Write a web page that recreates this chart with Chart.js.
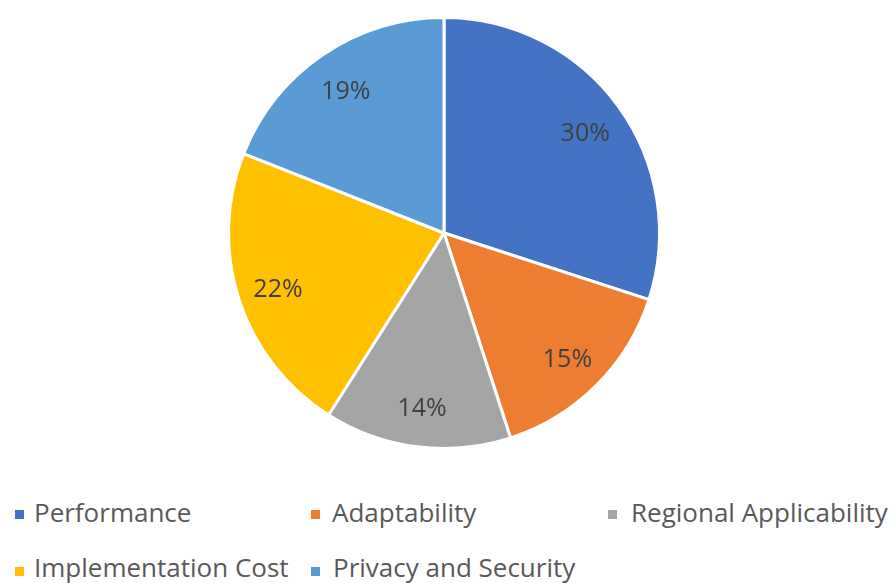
<!DOCTYPE html>
<html>
<head>
<meta charset="utf-8">
<script src="https://cdn.jsdelivr.net/npm/chart.js@4.4.1/dist/chart.umd.min.js"></script>
<style>
  html, body { margin: 0; padding: 0; background: #fff; }
  #wrap { position: relative; width: 894px; height: 583px; overflow: hidden; }
  #pie { position: absolute; left: 0; top: 0; width: 894px; height: 470px; }
  .lg-box { position: absolute; width: 9px; height: 9px; }
  .lg-text { position: absolute; font-family: 'Open Sans', 'Liberation Sans', sans-serif;
             font-size: 26px; line-height: 34px; color: #595959; white-space: nowrap; }
</style>
</head>
<body>
<div id="wrap">
  <div id="pie"><canvas id="pieChart"></canvas></div>
  <div id="legend"></div>
</div>
<script>
const categories = ['Performance', 'Adaptability', 'Regional Applicability', 'Implementation Cost', 'Privacy and Security'];
const shares = [30, 15, 14, 22, 19];
const sliceColors = ['#4472C4', '#ED7D31', '#A5A5A5', '#FFC000', '#5B9BD5'];

// legend slots in Excel-style columns: [box x, text x, row]
const legendSlots = [[15, 34, 0], [311, 332, 0], [608, 631, 0], [15, 34, 1], [311, 333, 1]];
const rowBoxTop = [510, 567];
const rowTextTop = [495, 550];

// percent text inside each slice
const sliceLabels = {
    id: 'sliceLabels',
    afterDatasetsDraw(chart) {
        const ctx = chart.ctx;
        const meta = chart.getDatasetMeta(0);
        const total = shares.reduce((a, b) => a + b, 0);
        ctx.save();
        ctx.font = "25px 'Open Sans', 'Liberation Sans', sans-serif";
        ctx.fillStyle = '#404040';
        ctx.textAlign = 'center';
        ctx.textBaseline = 'middle';
        meta.data.forEach((arc, i) => {
            const mid = (arc.startAngle + arc.endAngle) / 2;
            const r = arc.outerRadius * 0.81;
            const x = arc.x + Math.cos(mid) * r;
            const y = arc.y + Math.sin(mid) * r + 3;
            ctx.fillText(Math.round(shares[i] / total * 100) + '%', x, y);
        });
        ctx.restore();
    }
};

const chart = new Chart(document.getElementById('pieChart'), {
    type: 'pie',
    data: {
        labels: categories,
        datasets: [{
            data: shares,
            backgroundColor: sliceColors,
            borderColor: '#ffffff',
            borderWidth: 3
        }]
    },
    options: {
        responsive: true,
        maintainAspectRatio: false,
        animation: false,
        layout: { padding: { top: 16, bottom: 20, left: 0, right: 6 } },
        plugins: {
            legend: { display: false },
            tooltip: { enabled: false }
        }
    },
    plugins: [sliceLabels]
});

// build the legend from the chart's own legend items
const items = Chart.overrides.pie.plugins.legend.labels.generateLabels(chart);
const legendEl = document.getElementById('legend');
items.forEach((item, i) => {
    const [boxX, textX, row] = legendSlots[i];
    const box = document.createElement('div');
    box.className = 'lg-box';
    box.style.left = boxX + 'px';
    box.style.top = rowBoxTop[row] + 'px';
    box.style.background = item.fillStyle;
    const txt = document.createElement('div');
    txt.className = 'lg-text';
    txt.style.left = textX + 'px';
    txt.style.top = rowTextTop[row] + 'px';
    txt.textContent = item.text;
    legendEl.appendChild(box);
    legendEl.appendChild(txt);
});
</script>
</body>
</html>
